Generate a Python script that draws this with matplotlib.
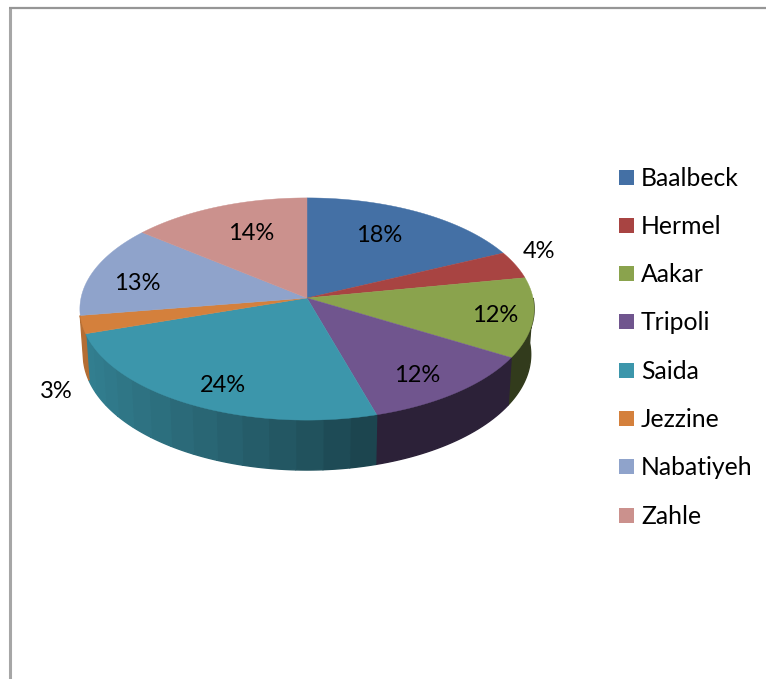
import numpy as np
import matplotlib
matplotlib.use("Agg")
import matplotlib.pyplot as plt
from matplotlib.colors import to_rgb

# chart data, shares estimated from the slice edges (labels show them rounded)
districts = ["Baalbeck", "Hermel", "Aakar", "Tripoli", "Saida", "Jezzine", "Nabatiyeh", "Zahle"]
shares = [18, 4, 11.6, 11.9, 24.4, 2.6, 13.4, 14.1]
colors = ["#4470A5", "#A84442", "#8AA34D", "#70558E", "#3C96AB", "#D4803C", "#8FA3CB", "#CB918D"]

# label centres in pixels, picked by eye
label_xy = [(379, 236), (539, 251), (495, 316), (417, 375), (223, 386), (56, 392), (137, 283), (251, 234)]

# perspective setup of the fake 3D pie
CX, CY = 307, 298
RX, RY = 226, 110
PERSP = 0.099
DEPTH = 45


def rim(theta_deg):
    th = np.radians(theta_deg)
    u, v = np.sin(th), -np.cos(th)
    w = 1 - PERSP * v
    return CX + RX * u / w, CY + RY * v / w, w


def side_shade(theta_deg):
    # wall gets darker going from left to right
    u = np.sin(np.radians(theta_deg))
    return np.interp(u, [-1, 0, 0.3, 0.9, 1], [0.86, 0.55, 0.43, 0.36, 0.36])


plt.rcParams['font.family'] = ['Lato', 'DejaVu Sans']
fig = plt.figure(figsize=(7.66, 6.79), dpi=100)
ax = fig.add_axes([0, 0, 1, 1])
ax.set_xlim(0, 766)
ax.set_ylim(679, 0)
ax.axis('off')

# chart frame, only top and left show
ax.plot([10, 10], [679, 8], color="#A6A6A6", lw=2.2, solid_capstyle='butt')
ax.plot([9, 766], [7.5, 7.5], color="#969696", lw=1.6, solid_capstyle='butt')

edges = 3.6 * np.concatenate([[0], np.cumsum(shares)])

# side wall first, only the front part is visible
for i, col in enumerate(colors):
    a0, a1 = max(edges[i], 90), min(edges[i + 1], edges[6])
    if a1 <= a0:
        continue
    # only the big Saida wall shows bands in the original
    n_bands = max(1, int((a1 - a0) / 6)) if districts[i] == "Saida" else 1
    steps = np.linspace(a0, a1, n_bands + 1)
    base = np.array(to_rgb(col))
    for s0, s1 in zip(steps[:-1], steps[1:]):
        ang = np.linspace(s0, s1, 30)
        x, y, w = rim(ang)
        xb = CX + (x - CX) * 0.985
        yb = y + DEPTH / w
        shade = tuple(base * side_shade((s0 + s1) / 2))
        ax.fill(np.r_[x, xb[::-1]], np.r_[y, yb[::-1]], color=shade, lw=1.0)

# top face
for i, col in enumerate(colors):
    ang = np.linspace(edges[i], edges[i + 1], 80)
    x, y, _ = rim(ang)
    ax.fill(np.r_[CX, x], np.r_[CY, y], color=col, lw=0.3)

for s, (lx, ly) in zip(shares, label_xy):
    ax.text(lx, ly, f"{s:.0f}%", fontsize=17, color="black", ha='center', va='center')

# legend
for i, (name, col) in enumerate(zip(districts, colors)):
    row_y = 177 + 48.3 * i
    ax.add_patch(plt.Rectangle((619, row_y - 7.5), 15, 15, color=col, lw=0))
    ax.text(641, row_y + 1, name, fontsize=17.8, color="black", ha='left', va='center')

fig.savefig("out.png", dpi=100)
